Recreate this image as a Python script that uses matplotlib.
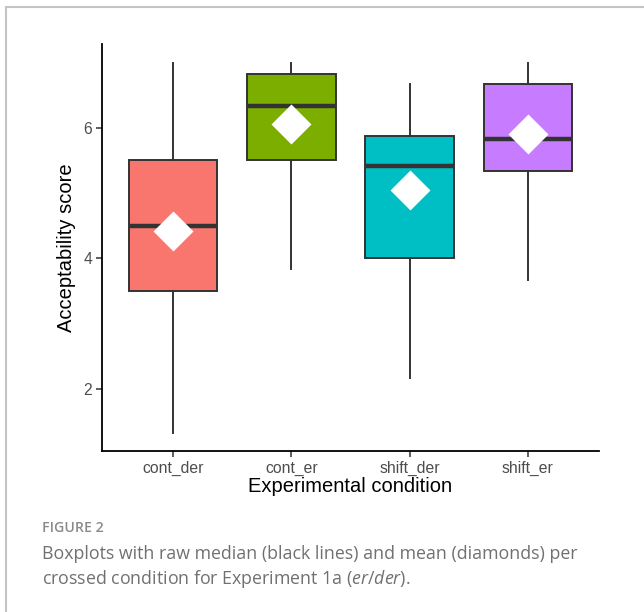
import numpy as np
import matplotlib
matplotlib.use("Agg")
import matplotlib.pyplot as plt
from matplotlib.lines import Line2D

# Data
conditions = ["cont_der", "cont_er", "shift_der", "shift_er"]
colors = ["#F8766D", "#7CAE00", "#00BFC4", "#C77CFF"]
whisker_low = [1.33, 3.83, 2.17, 3.67]
q1 = [3.5, 5.5, 4.0, 5.33]
medians = [4.5, 6.33, 5.42, 5.83]
q3 = [5.5, 6.83, 5.88, 6.67]
whisker_high = [7.0, 7.0, 6.67, 7.0]
means = [4.42, 6.05, 5.05, 5.91]
y_ticks = [2, 4, 6]

cap_font = "Open Sans"
plt.rcParams['mathtext.fontset'] = 'custom'
plt.rcParams['mathtext.it'] = cap_font + ':italic'
plt.rcParams['mathtext.rm'] = cap_font

fig = plt.figure(figsize=(6.44, 6.12), dpi=100)
ax = fig.add_axes([102/644, 1-451/612, (599-102)/644, (451-44)/612])

stats = []
for i, c in enumerate(conditions):
    stats.append(dict(label=c, whislo=whisker_low[i], q1=q1[i], med=medians[i],
                      q3=q3[i], whishi=whisker_high[i], fliers=[]))

pos = np.arange(1, len(conditions) + 1)
bp = ax.bxp(stats, positions=pos, widths=0.75, patch_artist=True, showcaps=False,
            boxprops=dict(edgecolor="#333333", linewidth=1.4),
            whiskerprops=dict(color="#333333", linewidth=1.4),
            medianprops=dict(color="#333333", linewidth=3.2, solid_capstyle="butt"))
for patch, col in zip(bp["boxes"], colors):
    patch.set_facecolor(col)

ax.plot(pos, means, linestyle="none", marker="D", markersize=20.8,
        markerfacecolor="white", markeredgecolor="none", zorder=5)

ax.set_xlim(0.4, len(conditions) + 0.6)
lo, hi = min(whisker_low), max(whisker_high)
pad = (hi - lo) * 0.05
ax.set_ylim(lo - pad, hi + pad)
ax.set_yticks(y_ticks)
ax.set_xticks(pos)
ax.set_xticklabels(conditions)

for s in ["top", "right"]:
    ax.spines[s].set_visible(False)
for s in ["left", "bottom"]:
    ax.spines[s].set_color("black")
    ax.spines[s].set_linewidth(1.3)
ax.tick_params(axis="both", length=4, width=1.1, color="#333333",
               labelcolor="#4D4D4D", labelsize=11.3, pad=3)
for lab in ax.get_xticklabels() + ax.get_yticklabels():
    lab.set_family("Liberation Sans")

ax.set_xlabel("Experimental condition", fontsize=14.5, family="Liberation Sans",
              color="black", labelpad=1)
ax.set_ylabel("Acceptability score", fontsize=14.5, family="Liberation Sans",
              color="black", labelpad=5)

# frame lines around the figure panel
fig.add_artist(Line2D([6/644, 1], [1-7/612, 1-7/612], color="#c4c4c4", linewidth=1.5))
fig.add_artist(Line2D([6/644, 6/644], [1-7/612, 0], color="#c4c4c4", linewidth=1.5))

# caption
fig.text(42/644, 1-532/612, "FIGURE 2", fontsize=10.2, color="#8a8a8a",
         family=cap_font, weight="semibold", va="baseline")
fig.text(42/644, 1-559/612,
         "Boxplots with raw median (black lines) and mean (diamonds) per",
         fontsize=12.8, color="#707070", family=cap_font, va="baseline")
fig.text(42/644, 1-584/612,
         r"crossed condition for Experiment 1a ($\mathit{er}$/$\mathit{der}$).",
         fontsize=12.8, color="#707070", family=cap_font, va="baseline")

fig.savefig("out.png", dpi=100)
